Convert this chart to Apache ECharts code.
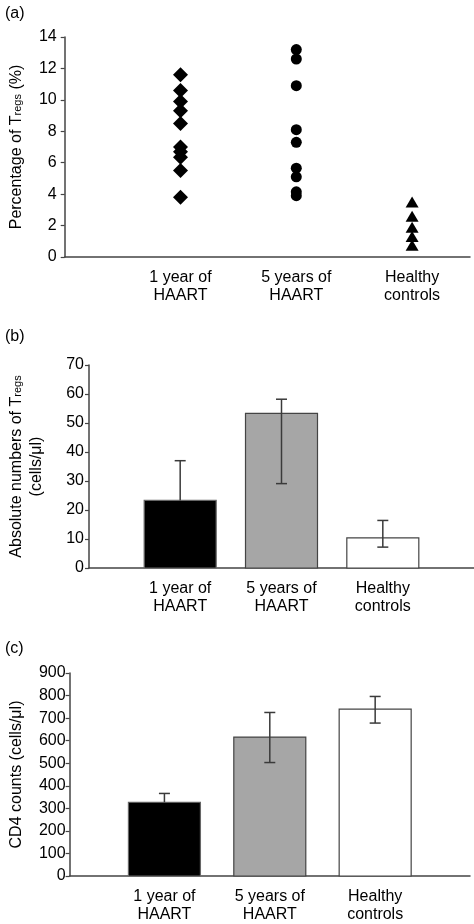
<!DOCTYPE html>
<html><head><meta charset="utf-8">
<script src="https://cdn.jsdelivr.net/npm/echarts@6/dist/echarts.min.js"></script>
<style>html,body{margin:0;padding:0;background:#fff}#c{width:474px;height:924px}</style>
</head><body><div id="c"></div><script>
// ---- data ----
const categories = ['1 year of\nHAART', '5 years of\nHAART', 'Healthy\ncontrols'];
const catPositions = [1, 2, 3];
const oneYearPct = [11.6, 10.6, 9.9, 9.3, 8.5, 7.0, 6.7, 6.35, 5.5, 3.8];
const fiveYearPct = [13.2, 12.6, 10.9, 8.1, 7.3, 5.65, 5.1, 4.15, 3.9];
const healthyPct = [3.5, 2.6, 1.9, 1.3, 0.75];
const tregAbsMean = [23.3, 53.3, 10.4];
const tregAbsLow = [23.3, 29.1, 7.2];   // black bar: no lower whisker visible
const tregAbsHigh = [37.0, 58.2, 16.4];
const cd4Mean = [327, 616, 740];
const cd4Low = [327, 503, 678];         // black bar: no lower whisker visible
const cd4High = [366, 725, 796];
const barColors = ['#000000', '#a6a6a6', '#ffffff'];
const barBorders = ['#666666', '#444444', '#444444'];

// ---- helpers ----
const FONT = "'Liberation Sans', Arial, Helvetica, sans-serif";
const FS = 16;
const AX = '#444';
const BAR_W = 72;
function xAxisDef(gridIndex, min, max) {
  return {
    type: 'value', gridIndex, min, max,
    axisLine: { show: true, onZero: false, lineStyle: { color: AX, width: 1.5 } },
    axisTick: { show: false },
    splitLine: { show: false },
    axisLabel: {
      customValues: catPositions,
      formatter: v => categories[catPositions.indexOf(Math.round(v))] || '',
      fontFamily: FONT, fontSize: FS, color: '#000', lineHeight: 18, margin: 12
    }
  };
}
function yAxisDef(gridIndex, max, interval, name, gap, labelMargin) {
  return {
    type: 'value', gridIndex, min: 0, max, interval,
    name, nameLocation: 'middle', nameRotate: 90, nameGap: gap,
    nameTextStyle: {
      fontFamily: FONT, fontSize: FS, color: '#000', lineHeight: 20,
      rich: {
        m: { fontFamily: FONT, fontSize: FS, color: '#000', padding: [0, 0, 3, 0] },
        sub: { fontFamily: FONT, fontSize: 11, color: '#000' }
      }
    },
    axisLine: { show: true, lineStyle: { color: AX, width: 1.5 } },
    axisTick: { show: true, inside: false, length: 4, lineStyle: { color: AX, width: 1.2 } },
    splitLine: { show: false },
    axisLabel: { fontFamily: FONT, fontSize: FS, color: '#000', margin: labelMargin }
  };
}
function errSeries(idx, means, low, high) {
  return {
    type: 'custom', xAxisIndex: idx, yAxisIndex: idx, z: 5,
    data: catPositions.map((p, i) => [p, low[i], high[i], means[i]]),
    renderItem: (params, api) => {
      const lo = api.coord([api.value(0), api.value(1)]);
      const hi = api.coord([api.value(0), api.value(2)]);
      const w = 5.5;
      const st = { stroke: '#3a3a3a', lineWidth: 1.5 };
      const kids = [
        { type: 'line', shape: { x1: lo[0], y1: lo[1], x2: hi[0], y2: hi[1] }, style: st },
        { type: 'line', shape: { x1: hi[0] - w, y1: hi[1], x2: hi[0] + w, y2: hi[1] }, style: st }
      ];
      if (api.value(1) < api.value(3)) {
        kids.push({ type: 'line', shape: { x1: lo[0] - w, y1: lo[1], x2: lo[0] + w, y2: lo[1] }, style: st });
      }
      return { type: 'group', children: kids };
    }
  };
}
function barSeries(idx, vals) {
  return {
    type: 'custom', xAxisIndex: idx, yAxisIndex: idx, z: 2,
    data: catPositions.map((p, i) => [p, vals[i], i]),
    renderItem: (params, api) => {
      const top = api.coord([api.value(0), api.value(1)]);
      const base = api.coord([api.value(0), 0]);
      const i = api.value(2);
      return {
        type: 'rect',
        shape: { x: top[0] - BAR_W / 2, y: top[1], width: BAR_W, height: base[1] - top[1] },
        style: { fill: barColors[i], stroke: barBorders[i], lineWidth: 1.2 }
      };
    }
  };
}
function scatter(vals, pos, symbol, size) {
  return {
    type: 'scatter', xAxisIndex: 0, yAxisIndex: 0, symbol, symbolSize: size,
    itemStyle: { color: '#000', opacity: 1 },
    data: vals.map(v => [pos, v])
  };
}

const tStyle = { fontFamily: FONT, fontSize: FS, fontWeight: 'normal', color: '#000' };
const chart = echarts.init(document.getElementById('c'), null, { renderer: 'canvas' });
chart.setOption({
  animation: false,
  backgroundColor: '#fff',
  title: [
    { text: '(a)', left: 0, top: 1, textStyle: tStyle },
    { text: '(b)', left: 0, top: 324, textStyle: tStyle },
    { text: '(c)', left: 0, top: 636, textStyle: tStyle }
  ],
  grid: [
    { left: 57, top: 37, width: 413, height: 220 },
    { left: 72, top: 365, width: 402, height: 203 },
    { left: 63, top: 673, width: 407, height: 203 }
  ],
  xAxis: [xAxisDef(0, 0, 3.5), xAxisDef(1, 0.1, 3.9), xAxisDef(2, 0.1, 3.9)],
  yAxis: [
    yAxisDef(0, 14, 2, '{m|Percentage of T}{sub|regs}{m| (%)}', 33, 8),
    yAxisDef(1, 70, 10, '{m|Absolute numbers of T}{sub|regs}\n{m|(cells/μl)}', 41, 5),
    yAxisDef(2, 900, 100, '{m|CD4 counts (cells/μl)}', 39, 4)
  ],
  series: [
    scatter(oneYearPct, catPositions[0], 'diamond', 15),
    scatter(fiveYearPct, catPositions[1], 'circle', 11),
    scatter(healthyPct, catPositions[2], 'triangle', [13, 11]),
    barSeries(1, tregAbsMean),
    errSeries(1, tregAbsMean, tregAbsLow, tregAbsHigh),
    barSeries(2, cd4Mean),
    errSeries(2, cd4Mean, cd4Low, cd4High)
  ]
});
</script></body></html>
